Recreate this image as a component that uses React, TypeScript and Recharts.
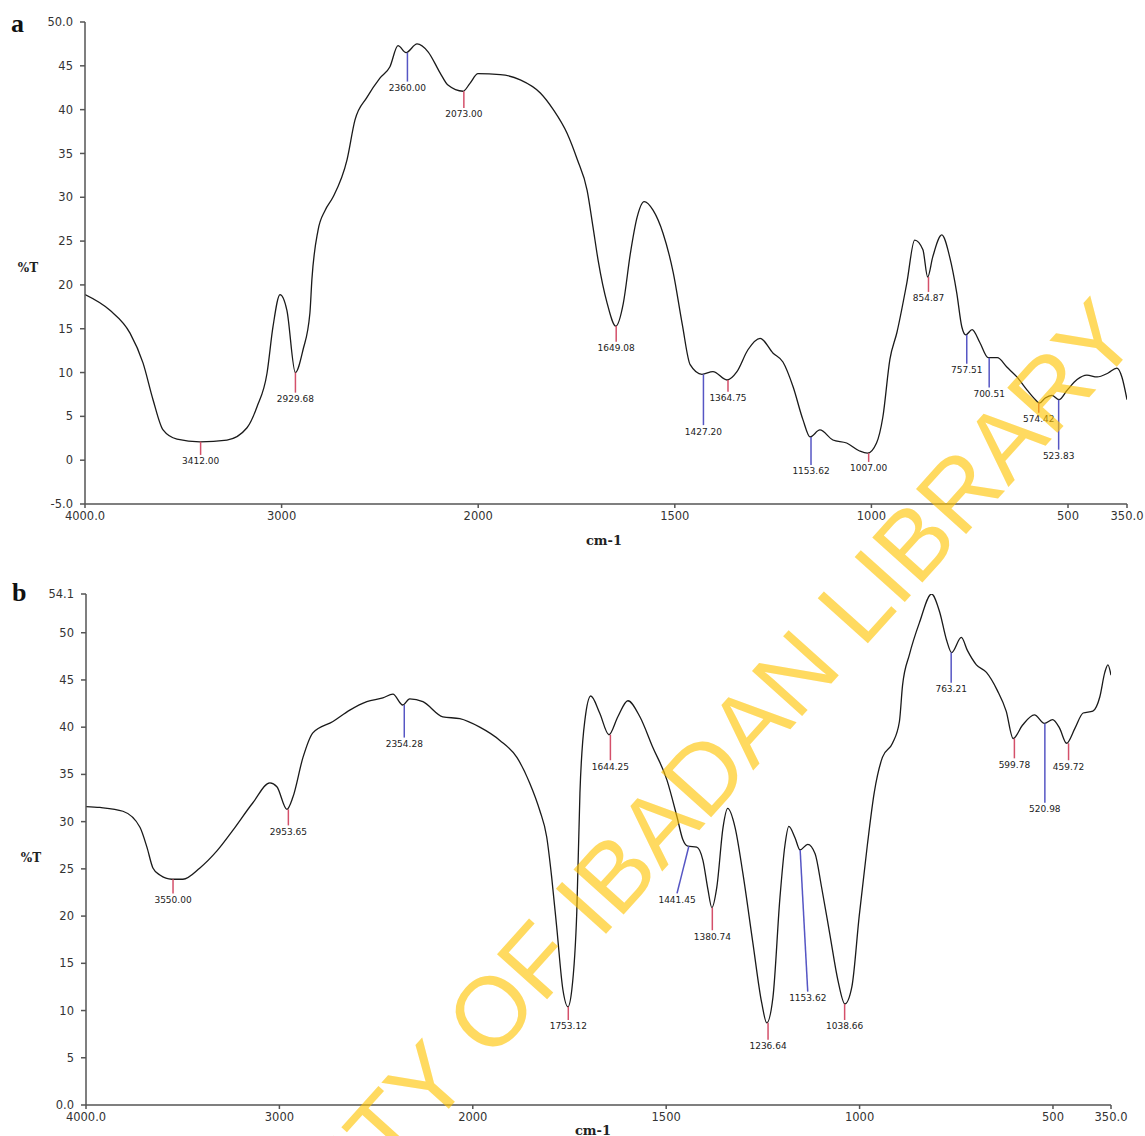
import React from 'react';
import { LineChart, Line, XAxis, YAxis, ReferenceLine, ReferenceDot } from 'recharts';

// panel a: wavenumber (cm-1) and %T
const waveA = [
  4000, 3873, 3771, 3705, 3654, 3603, 3532, 3415, 3278, 3176, 3125, 3074, 3044, 3008, 2973, 2930,
  2891, 2856, 2846, 2815, 2779, 2739, 2667, 2627, 2566, 2500, 2449, 2408, 2367, 2311, 2255, 2194,
  2154, 2077, 2042, 2001, 1944, 1893, 1842, 1809, 1774, 1748, 1723, 1708, 1695, 1672, 1650, 1631,
  1613, 1596, 1578, 1555, 1530, 1504, 1481, 1461, 1431, 1403, 1367, 1342, 1314, 1283, 1250, 1225,
  1199, 1174, 1156, 1131, 1098, 1063, 1030, 1010, 987, 971, 953, 935, 910, 890, 869, 857, 844, 821,
  801, 783, 770, 760, 744, 724, 703, 680, 655, 630, 604, 583, 573, 558, 541, 523, 502, 477, 452,
  426, 398, 376, 363, 350,
];
const transA = [
  18.9, 17.1, 14.5, 11.1, 6.9, 3.45, 2.4, 2.1, 2.3, 3.7, 6.1, 9.95, 15.2, 18.9, 17.1, 10.0,
  12.6, 16.8, 20.6, 26.2, 28.5, 30.0, 34.3, 38.8, 41.4, 43.6, 44.9, 47.3, 46.5, 47.5, 46.6, 44.2,
  42.8, 42.1, 43.0, 44.1, 44.0, 43.4, 41.9, 40.0, 37.3, 34.3, 30.8, 26.6, 22.8, 17.9, 15.3, 17.9,
  23.6, 27.7, 29.5, 28.5, 25.9, 21.4, 15.5, 10.9, 9.8, 10.1, 9.15, 10.1, 12.6, 13.9, 12.2, 11.2,
  8.35, 4.6, 2.65, 3.45, 2.3, 1.96, 1.05, 0.8, 1.96, 4.9, 11.5, 14.6, 20.2, 25.1, 24.0, 20.9, 23.2, 25.7,
  23.2, 19.1, 15.2, 14.3, 14.9, 13.4, 11.7, 11.7, 10.6, 9.5, 8.0, 6.9, 6.5, 7.1, 7.4, 6.9, 8.0, 9.2, 9.7,
  9.5, 9.95, 10.5, 9.5, 6.9,
];

// panel b
const waveB = [
  4000, 3928, 3809, 3721, 3685, 3654, 3618, 3556, 3499, 3411, 3323, 3240, 3137, 3049, 3013, 2961,
  2930, 2878, 2827, 2723, 2636, 2548, 2465, 2413, 2362, 2326, 2258, 2155, 2067, 1982, 1930, 1886,
  1853, 1827, 1809, 1796, 1783, 1767, 1754, 1744, 1731, 1723, 1710, 1695, 1672, 1648, 1625, 1599,
  1568, 1535, 1498, 1472, 1457, 1444, 1421, 1405, 1392, 1382, 1369, 1353, 1341, 1322, 1302, 1276,
  1253, 1240, 1224, 1206, 1193, 1183, 1167, 1154, 1134, 1115, 1098, 1077, 1056, 1038, 1020, 1001,
  980, 962, 941, 915, 897, 889, 871, 845, 814, 793, 775, 762, 737, 721, 698, 672, 644, 621, 603,
  579, 548, 522, 501, 483, 465, 443, 422, 397, 379, 366, 358, 350,
];
const transB = [
  31.6, 31.5, 31.1, 29.4, 27.3, 25.1, 24.35, 23.9, 23.9, 25.1, 26.9, 29.1, 32.0, 34.1, 33.7, 31.3,
  32.6, 36.8, 39.4, 40.6, 41.8, 42.7, 43.1, 43.5, 42.35, 43.0, 42.7, 41.1, 40.9, 40.0, 38.6, 36.8,
  34.1, 31.2, 28.4, 24.1, 18.8, 12.2, 10.4, 12.2, 20.6, 33.0, 40.8, 43.3, 41.5, 39.2, 41.1, 42.8,
  41.1, 37.9, 34.4, 30.5, 28.1, 27.4, 27.3, 25.9, 22.8, 20.9, 23.1, 29.4, 31.4, 29.4, 24.6, 17.2,
  10.8, 8.7, 11.4, 21.9, 27.5, 29.5, 28.3, 27.0, 27.6, 26.6, 23.0, 18.1, 13.2, 10.7, 12.5, 20.0,
  27.5, 33.1, 36.8, 38.3, 40.6, 44.4, 47.7, 51.1, 54.1, 52.2, 49.2, 47.9, 49.5, 48.1, 46.6, 45.8, 43.9, 41.7, 38.8,
  40.2, 41.3, 40.4, 40.8, 39.9, 38.3, 39.9, 41.5, 41.7, 43.2, 45.8, 46.6, 45.5,
];

// peak markers: wavenumber, %T where the marker meets the trace, where it ends, and marker type
const peakWaveA = [3412, 2929.68, 2360, 2073, 1649.08, 1427.2, 1364.75, 1153.62, 1007, 854.87, 757.51, 700.51, 574.42, 523.83];
const peakTopA = [2.1, 10.0, 46.5, 42.1, 15.3, 9.8, 9.15, 2.65, 0.8, 20.9, 14.3, 11.7, 6.5, 6.9];
const peakEndWaveA = [3412, 2929.68, 2360, 2073, 1649.08, 1427.2, 1364.75, 1153.62, 1007, 854.87, 757.51, 700.51, 574.42, 523.83];
const peakEndA = [0.6, 7.7, 43.2, 40.2, 13.5, 4.0, 7.8, -0.55, -0.2, 19.2, 11.0, 8.3, 5.4, 1.2];
const peakKindA = ['r', 'r', 'b', 'r', 'r', 'b', 'r', 'b', 'r', 'r', 'b', 'b', 'r', 'b'];

const peakWaveB = [3550, 2953.65, 2354.28, 1753.12, 1644.25, 1441.45, 1380.74, 1236.64, 1153.62, 1038.66, 763.21, 599.78, 520.98, 459.72];
const peakTopB = [23.9, 31.3, 42.35, 10.4, 39.2, 27.4, 20.9, 8.7, 27.0, 10.7, 47.9, 38.8, 40.4, 38.3];
const peakEndWaveB = [3550, 2953.65, 2354.28, 1753.12, 1644.25, 1472, 1380.74, 1236.64, 1134, 1038.66, 763.21, 599.78, 520.98, 459.72];
const peakEndB = [22.4, 29.6, 38.9, 9.0, 36.5, 22.4, 18.5, 6.9, 12.0, 9.0, 44.7, 36.7, 32.0, 36.5];
const peakKindB = ['r', 'r', 'b', 'r', 'r', 'b', 'r', 'r', 'b', 'r', 'b', 'r', 'b', 'r'];

const xTickWaves = [4000, 3000, 2000, 1500, 1000, 500, 350];
const yTicksA = [-5, 0, 5, 10, 15, 20, 25, 30, 35, 40, 45, 50];
const yTicksB = [0, 5, 10, 15, 20, 25, 30, 35, 40, 45, 50, 54.1];

// spectrometer axis: scale halves above 2000 cm-1
const toAxis = (wn: number) => (wn > 2000 ? 2000 + (wn - 2000) / 2 : wn);
const fromAxis = (u: number) => (u > 2000 ? 2000 + (u - 2000) * 2 : u);

const RED = '#d4506a';
const BLUE = '#5656c4';
const TICK_FONT = { fontSize: 11.5, fontFamily: 'DejaVu Sans', fill: '#333' };

type PanelProps = {
  wave: number[];
  trans: number[];
  peakWave: number[];
  peakTop: number[];
  peakEndWave: number[];
  peakEnd: number[];
  peakKind: string[];
  yDomain: [number, number];
  yTicks: number[];
  yFormat: (v: number) => string;
  height: number;
  margin: { top: number; right: number; bottom: number; left: number };
};

function Panel(p: PanelProps) {
  const data = p.wave.map((wn, i) => ({ u: toAxis(wn), t: p.trans[i] }));
  return (
    <LineChart width={1145} height={p.height} data={data} margin={p.margin}>
      <XAxis
        type="number"
        dataKey="u"
        domain={[350, 3000]}
        reversed
        allowDataOverflow
        ticks={xTickWaves.map(toAxis)}
        tickFormatter={(u: number) => {
          const wn = fromAxis(u);
          return wn === 4000 || wn === 350 ? wn.toFixed(1) : String(wn);
        }}
        height={30}
        tickSize={4}
        tickMargin={4}
        tick={TICK_FONT}
        stroke="#555"
        strokeWidth={1.5}
      />
      <YAxis
        type="number"
        domain={p.yDomain}
        ticks={p.yTicks}
        allowDataOverflow
        tickFormatter={p.yFormat}
        width={60}
        tickSize={5}
        tickMargin={7}
        tick={TICK_FONT}
        stroke="#555"
        strokeWidth={1.5}
      />
      <Line
        type="monotone"
        dataKey="t"
        stroke="#1a1a1a"
        strokeWidth={1.3}
        dot={false}
        isAnimationActive={false}
      />
      {p.peakWave.map((wn, i) => (
        <ReferenceLine
          key={'l' + i}
          segment={[
            { x: toAxis(wn), y: p.peakTop[i] },
            { x: toAxis(p.peakEndWave[i]), y: p.peakEnd[i] },
          ]}
          stroke={p.peakKind[i] === 'r' ? RED : BLUE}
          strokeWidth={1.5}
        />
      ))}
      {p.peakWave.map((wn, i) => (
        <ReferenceDot
          key={'d' + i}
          x={toAxis(p.peakEndWave[i])}
          y={p.peakEnd[i]}
          r={1}
          fill="none"
          stroke="none"
          label={{
            value: wn.toFixed(2),
            position: 'bottom',
            offset: 2,
            fontSize: 9,
            fontFamily: 'DejaVu Sans',
            fill: '#222',
          }}
        />
      ))}
    </LineChart>
  );
}

export default function App() {
  return (
    <div style={{ position: 'absolute', left: 0, top: 0, width: 1145, height: 1136, background: '#fff', overflow: 'hidden' }}>
      <div style={{ position: 'absolute', left: 0, top: 0 }}>
        <Panel
          wave={waveA}
          trans={transA}
          peakWave={peakWaveA}
          peakTop={peakTopA}
          peakEndWave={peakEndWaveA}
          peakEnd={peakEndA}
          peakKind={peakKindA}
          yDomain={[-5, 50]}
          yTicks={yTicksA}
          yFormat={(v) => (v === -5 || v === 50 ? v.toFixed(1) : String(v))}
          height={560}
          margin={{ top: 22, right: 18, bottom: 26, left: 25 }}
        />
      </div>
      <div style={{ position: 'absolute', left: 0, top: 560 }}>
        <Panel
          wave={waveB}
          trans={transB}
          peakWave={peakWaveB}
          peakTop={peakTopB}
          peakEndWave={peakEndWaveB}
          peakEnd={peakEndB}
          peakKind={peakKindB}
          yDomain={[0, 54.1]}
          yTicks={yTicksB}
          yFormat={(v) => (v === 0 || v === 54.1 ? v.toFixed(1) : String(v))}
          height={576}
          margin={{ top: 34, right: 34, bottom: 1, left: 26 }}
        />
      </div>
      <svg
        width={1145}
        height={1136}
        style={{ position: 'absolute', left: 0, top: 0, pointerEvents: 'none' }}
      >
        <text x={11} y={32} fontFamily="Liberation Serif" fontWeight="bold" fontSize={26} fill="#111">a</text>
        <text x={12} y={601} fontFamily="Liberation Serif" fontWeight="bold" fontSize={26} fill="#111">b</text>
        <text x={28} y={272} textAnchor="middle" fontFamily="DejaVu Serif" fontWeight="bold" fontSize={12} fill="#222">%T</text>
        <text x={31} y={862} textAnchor="middle" fontFamily="DejaVu Serif" fontWeight="bold" fontSize={12} fill="#222">%T</text>
        <text x={604} y={545} textAnchor="middle" fontFamily="DejaVu Serif" fontWeight="bold" fontSize={13} fill="#222">cm-1</text>
        <text x={593} y={1135} textAnchor="middle" fontFamily="DejaVu Serif" fontWeight="bold" fontSize={13} fill="#222">cm-1</text>
        <g transform="translate(585,905) rotate(-48)">
          <text x={0} y={35} textAnchor="middle" fontFamily="Liberation Sans" fontSize={98} fill="#ffc400" opacity={0.62}>
            UNIVERSITY OF IBADAN LIBRARY
          </text>
        </g>
      </svg>
    </div>
  );
}
